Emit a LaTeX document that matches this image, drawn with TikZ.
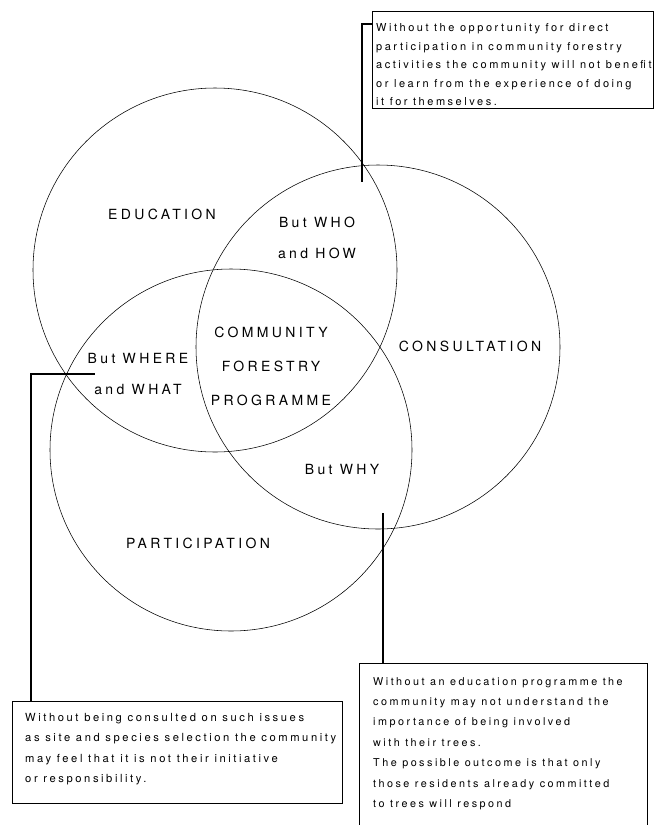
\documentclass[tikz,border=0pt]{standalone}
\usepackage{fontspec}
\setmainfont{TeX Gyre Heros}[LetterSpace=23]
\newfontfamily\lblfont{TeX Gyre Heros}[LetterSpace=24]
\usetikzlibrary{positioning}

\tikzset{
  ring/.style={line width=0.55pt},
  lead/.style={line width=1.1pt},
  note/.style={draw, line width=0.8pt, anchor=north west, inner sep=0pt},
  notetext/.style={inner sep=0pt, align=left, font=\fontsize{10.8}{20.4}\selectfont},
  lbl/.style={inner sep=0pt, align=center, font=\lblfont\fontsize{14}{30.5}\selectfont}
}

\begin{document}
\begin{tikzpicture}[x=1pt,y=-1pt]
    \useasboundingbox (0,0) rectangle (654,825);
    \clip (0,0) rectangle (654,825);

    % the three rings
    \draw[ring] (215,270) circle[radius=182pt];
    \draw[ring] (378,347) circle[radius=182pt];
    \draw[ring] (231,450) circle[radius=181pt];

    \node[lbl] (edu) at (162,214) {EDUCATION};
    \node[lbl] (con) at (470,346) {CONSULTATION};
    \node[lbl] (par) at (198,543) {PARTICIPATION};
    \node[lbl] (who) at (317,238) {But WHO\\and HOW};
    \node[lbl] (where) at (138,374) {But WHERE\\and WHAT};
    \node[lbl] (why) at (342,469) {But WHY};
    \node[lbl, font=\lblfont\fontsize{14}{34}\selectfont] (cfp) at (271,366) {COMMUNITY\\FORESTRY\\PROGRAMME};

    % notes
    \node[note, minimum width=281pt, minimum height=97pt] (nwho) at (372,11) {};
    \node[notetext, font=\fontsize{11}{18.5}\selectfont, below right=12.5pt and 4pt of nwho.north west] (twho)
        {Without the opportunity for direct\\participation in community forestry\\activities the community will not benefit\\or learn from the experience of doing\\it for themselves.};

    \node[note, minimum width=330pt, minimum height=102pt] (nwhere) at (12,701) {};
    \node[notetext, font=\fontsize{11.2}{20.4}\selectfont, below right=12pt and 13pt of nwhere.north west] (twhere)
        {Without being consulted on such issues\\as site and species selection the community\\may feel that it is not their initiative\\or responsibility.};

    \node[note, minimum width=288pt, minimum height=180pt] (nwhy) at (359,663) {};
    \node[notetext, below right=14pt and 14pt of nwhy.north west] (twhy)
        {Without an education programme the\\community may not understand the\\importance of being involved\\with their trees.\\The possible outcome is that only\\those residents already committed\\to trees will respond};

    % leaders
    \coordinate (ewho) at (362,182);
    \coordinate (ewhere) at (95,374);
    \coordinate (ewhy) at (383,513);
    \draw[lead] ([yshift=-13pt]nwho.north west) -| (ewho);
    \draw[lead] ([xshift=19pt]nwhere.north west) |- (ewhere);
    \draw[lead] (nwhy.north west -| ewhy) -- (ewhy);

\end{tikzpicture}
\end{document}
